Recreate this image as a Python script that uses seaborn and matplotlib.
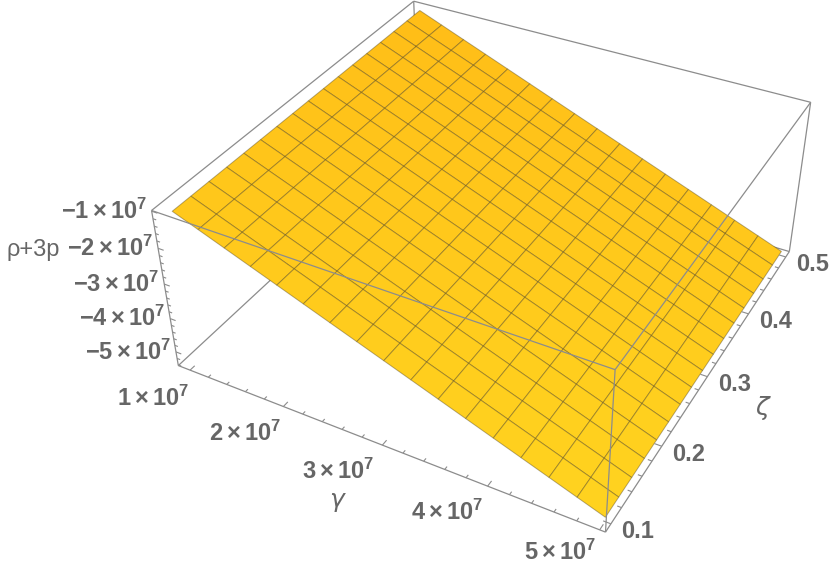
import matplotlib
matplotlib.use("Agg")
import matplotlib.pyplot as plt
from mpl_toolkits.mplot3d import proj3d
from mpl_toolkits.mplot3d.art3d import Line3DCollection
import numpy as np
import seaborn as sns

# values
gamma_vals = [1.0e7, 1.25e7, 1.5e7, 1.75e7, 2.0e7, 2.25e7, 2.5e7, 2.75e7, 3.0e7,
              3.25e7, 3.5e7, 3.75e7, 4.0e7, 4.25e7, 4.5e7, 4.75e7, 5.0e7]
zeta_vals = [0.1, 0.125, 0.15, 0.175, 0.2, 0.225, 0.25, 0.275, 0.3,
             0.325, 0.35, 0.375, 0.4, 0.425, 0.45, 0.475, 0.5]
rho_3p = [-1.05e7, -1.315e7, -1.58e7, -1.845e7, -2.11e7, -2.375e7, -2.64e7, -2.905e7, -3.17e7,
          -3.435e7, -3.70e7, -3.965e7, -4.23e7, -4.495e7, -4.76e7, -5.025e7, -5.29e7]

gamma_ticks = [1e7, 2e7, 3e7, 4e7, 5e7]
gamma_labels = [r"$1\times10^{7}$", r"$2\times10^{7}$", r"$3\times10^{7}$", r"$4\times10^{7}$", r"$5\times10^{7}$"]
zeta_ticks = [0.1, 0.2, 0.3, 0.4, 0.5]
zeta_labels = ["0.1", "0.2", "0.3", "0.4", "0.5"]
z_ticks = [-1e7, -2e7, -3e7, -4e7, -5e7]
z_labels = [r"$-1\times10^{7}$", r"$-2\times10^{7}$", r"$-3\times10^{7}$", r"$-4\times10^{7}$", r"$-5\times10^{7}$"]

# box limits
g0, g1 = 0.87e7, 5.05e7
s0, s1 = 0.09, 0.51
z0, z1 = -5.42e7, -0.98e7

TICK_COL = "#666666"
EDGE_COL = "#8c8c8c"

sns.set_theme(style="white")
plt.rcParams["font.family"] = ["Liberation Sans", "DejaVu Sans"]
plt.rcParams["mathtext.fontset"] = "custom"
plt.rcParams["mathtext.rm"] = "Liberation Sans:bold"
plt.rcParams["mathtext.it"] = "Liberation Sans:bold"
plt.rcParams["mathtext.bf"] = "Liberation Sans:bold"
plt.rcParams["mathtext.default"] = "rm"

# the view is a strong perspective, fit it from where the box corners sit on the image
corners = [(0, 0, 0), (1, 0, 0), (1, 1, 0), (0, 1, 0), (0, 0, 1), (1, 0, 1), (1, 1, 1), (0, 1, 1)]
corners_px = [(178, 365), (605.5, 532), (790, 250), (419, 144), (152, 210), (615, 371), (810, 103), (414, 0)]
rows = []
rhs = []
for (a, b, c), (u, v) in zip(corners, corners_px):
    rows.append([a, b, c, 1, 0, 0, 0, 0, -u * a, -u * b, -u * c])
    rows.append([0, 0, 0, 0, a, b, c, 1, -v * a, -v * b, -v * c])
    rhs += [u, v]
p = np.linalg.lstsq(np.array(rows, float), np.array(rhs, float), rcond=None)[0]
unit_M = np.array([p[:4], p[4:8], [0.3, 0.5, 0.7, 0.1], [p[8], p[9], p[10], 1.0]])
scale_M = np.array([[1 / (g1 - g0), 0, 0, -g0 / (g1 - g0)],
                    [0, 1 / (s1 - s0), 0, -s0 / (s1 - s0)],
                    [0, 0, 1 / (z1 - z0), -z0 / (z1 - z0)],
                    [0, 0, 0, 1]])
view_M = unit_M @ scale_M

fig = plt.figure(figsize=(8.3, 5.67), dpi=100)
ax = fig.add_axes([0, 0, 1, 1], projection="3d")
ax.get_proj = lambda: view_M
ax.apply_aspect = lambda position=None: None
ax.set_axis_off()
ax.computed_zorder = False


def to_px(x, y, z):
    u, v, _ = proj3d.proj_transform(x, y, z, view_M)
    return float(u), float(v)


X, Y = np.meshgrid(gamma_vals, zeta_vals)
Z = np.tile(rho_3p, (len(zeta_vals), 1))
# light falls from the far corner to the near one
cmap = sns.blend_palette(["#FFBD17", "#FFD31F"], as_cmap=True)
light = 0.5 * (X - X.min()) / (X.max() - X.min()) + 0.5 * (Y.max() - Y) / (Y.max() - Y.min())
ax.plot_surface(X, Y, Z, facecolors=cmap(light), rstride=1, cstride=1,
                shade=False, edgecolor=(0.3, 0.25, 0.1, 0.42), linewidth=0.7, zorder=2)

# box edges, the ones behind the surface go under it
back = [((g0, s0, z0), (g0, s1, z0)), ((g0, s1, z0), (g1, s1, z0)), ((g0, s1, z0), (g0, s1, z1)),
        ((g0, s0, z1), (g0, s1, z1)), ((g0, s1, z1), (g1, s1, z1)), ((g1, s1, z0), (g1, s1, z1))]
front = [((g0, s0, z0), (g1, s0, z0)), ((g1, s0, z0), (g1, s1, z0)), ((g0, s0, z0), (g0, s0, z1)),
         ((g0, s0, z1), (g1, s0, z1)), ((g1, s0, z1), (g1, s1, z1)), ((g1, s0, z0), (g1, s0, z1))]

# short inward ticks, five steps between labelled values
tick_segs = []
for g in np.arange(1e7, 5.01e7, 0.2e7):
    ln = 0.016 if round(g / 1e7, 1) in [t / 1e7 for t in gamma_ticks] else 0.009
    tick_segs.append(((g, s0, z0), (g, s0 + ln * (s1 - s0), z0)))
for s in np.arange(0.1, 0.501, 0.02):
    ln = 0.016 if round(s, 2) in zeta_ticks else 0.009
    tick_segs.append(((g1, s, z0), (g1 - ln * (g1 - g0), s, z0)))
for zv in np.arange(-5.4e7, -0.99e7, 0.2e7):
    ln = 0.014 if round(zv / 1e7, 1) in [t / 1e7 for t in z_ticks] else 0.008
    tick_segs.append(((g0, s0, zv), (g0 + ln * (g1 - g0), s0, zv)))

ax.add_collection3d(Line3DCollection(back, colors=EDGE_COL, linewidths=0.9, zorder=1), autolim=False)
ax.add_collection3d(Line3DCollection(front, colors=EDGE_COL, linewidths=0.9, zorder=3), autolim=False)
ax.add_collection3d(Line3DCollection(tick_segs, colors=EDGE_COL, linewidths=0.8, zorder=3), autolim=False)

# tick labels
gamma_offsets = [(-37, -28), (-38, -27), (-44, -26), (-40, -26), (-40, -22)]
for g, lab, off in zip(gamma_ticks, gamma_labels, gamma_offsets):
    ax.annotate(lab, xy=to_px(g, s0, z0), xytext=off, textcoords="offset pixels",
                ha="center", va="center", fontsize=17, color=TICK_COL, fontweight="bold")
for s, lab in zip(zeta_ticks, zeta_labels):
    ax.annotate(lab, xy=to_px(g1, s, z0), xytext=(27, -8), textcoords="offset pixels",
                ha="center", va="center", fontsize=17, color=TICK_COL, fontweight="bold")
for zv, lab in zip(z_ticks, z_labels):
    ax.annotate(lab, xy=to_px(g0, s0, zv), xytext=(-5, 0), textcoords="offset pixels",
                ha="right", va="center", fontsize=17, color=TICK_COL, fontweight="bold")

# axis labels
fig.text(33 / 830, 1 - 250 / 567, "ρ+3p", ha="center", va="center", fontsize=17, color=TICK_COL)
fig.text(337 / 830, 1 - 500 / 567, "γ", ha="center", va="center", fontsize=18, color=TICK_COL, style="italic",
         family=["DejaVu Sans"])
fig.text(762 / 830, 1 - 408 / 567, "ζ", ha="center", va="center", fontsize=18, color=TICK_COL, style="italic",
         family=["DejaVu Sans"])

# 2D pane of the 3D axes in image pixels, so the fitted view lands where it should
ax.viewLim.intervalx = (0, 830)
ax.viewLim.intervaly = (567, 0)

fig.savefig("out.png", dpi=100)
